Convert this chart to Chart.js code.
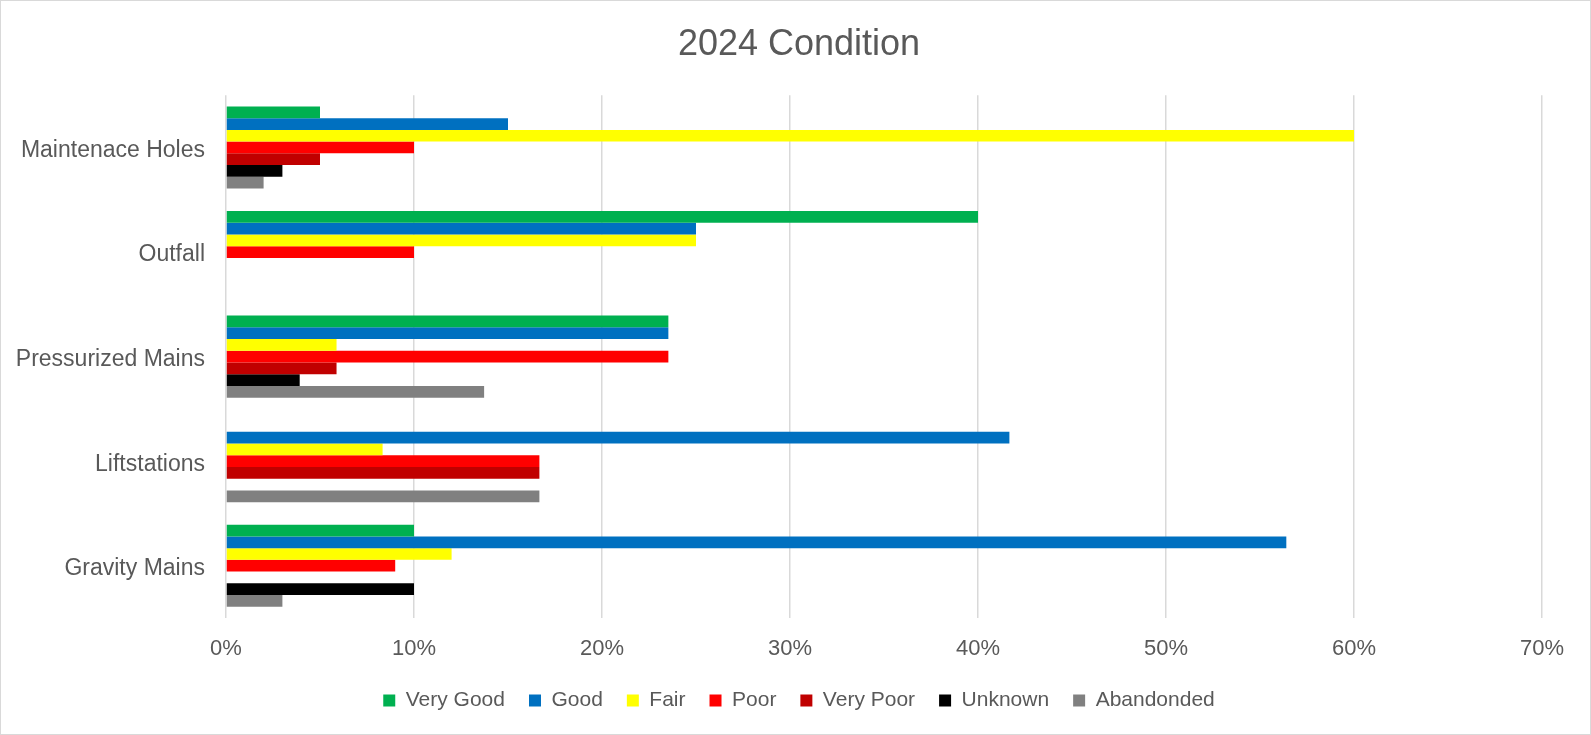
<!DOCTYPE html>
<html>
<head>
<meta charset="utf-8">
<script src="https://cdn.jsdelivr.net/npm/chart.js@4.4.1/dist/chart.umd.min.js"></script>
<style>
  html, body { margin: 0; padding: 0; background: #fff; }
  #wrap { width: 1591px; height: 735px; box-sizing: border-box; border: 1px solid #d9d9d9; }
  #wrap canvas { display: block; }
</style>
</head>
<body>
<div id="wrap"><canvas id="conditionChart" width="1589" height="733"></canvas></div>
<script>
// Data
var assets = ['Maintenace Holes', 'Outfall', 'Pressurized Mains', 'Liftstations', 'Gravity Mains'];
var veryGood = [5, 40, 23.53, 0, 10];
var good = [15, 25, 23.53, 41.67, 56.4];
var fair = [60, 25, 5.88, 8.33, 12];
var poor = [10, 10, 23.53, 16.67, 9];
var veryPoor = [5, 0, 5.88, 16.67, 0];
var unknown = [3, 0, 3.92, 0, 10];
var abandoned = [2, 0, 13.73, 16.67, 3];
var xTicks = [0, 10, 20, 30, 40, 50, 60, 70];

var textColor = '#595959';
var fontFamily = "'Liberation Sans', Arial, sans-serif";

// plot area runs a bit past the 70% line (room for the last tick label)
var plotLeft = 225, plotRight70 = 1541, canvasW = 1589;
var xMax = 70 * (canvasW - plotLeft) / (plotRight70 - plotLeft);

function series(label, data, color) {
    return {
        label: label,
        data: data,
        backgroundColor: color,
        borderWidth: 0,
        barPercentage: 1.0,
        categoryPercentage: 0.785
    };
}

var ctx = document.getElementById('conditionChart').getContext('2d');
var chart = new Chart(ctx, {
    type: 'bar',
    data: {
        labels: assets,
        datasets: [
            series('Very Good', veryGood, '#00B050'),
            series('Good', good, '#0070C0'),
            series('Fair', fair, '#FFFF00'),
            series('Poor', poor, '#FF0000'),
            series('Very Poor', veryPoor, '#C00000'),
            series('Unknown', unknown, '#000000'),
            series('Abandonded', abandoned, '#808080')
        ]
    },
    options: {
        indexAxis: 'y',
        responsive: false,
        animation: false,
        layout: {
            padding: { left: 7, right: 0, top: 0, bottom: 13 }
        },
        plugins: {
            title: {
                display: true,
                text: '2024 Condition',
                color: textColor,
                font: { family: fontFamily, size: 36, weight: 'normal' },
                padding: { top: 22.5, bottom: 28.5 }
            },
            legend: {
                display: true,
                position: 'bottom',
                labels: {
                    color: textColor,
                    font: { family: fontFamily, size: 21 },
                    boxWidth: 12,
                    boxHeight: 12,
                    padding: 24
                }
            },
            tooltip: { enabled: false }
        },
        scales: {
            x: {
                min: 0,
                max: xMax,
                afterBuildTicks: function(axis) {
                    axis.ticks = xTicks.map(function(v) { return { value: v }; });
                },
                afterFit: function(axis) { axis.height = 48; },
                grid: {
                    color: '#d9d9d9',
                    lineWidth: 1.5,
                    drawTicks: false
                },
                border: { display: false },
                ticks: {
                    color: textColor,
                    font: { family: fontFamily, size: 22 },
                    padding: 18,
                    callback: function(v) { return v + '%'; }
                }
            },
            y: {
                grid: { display: false, drawTicks: false },
                border: { display: false },
                afterFit: function(axis) { axis.width = plotLeft - 7; },
                ticks: {
                    color: textColor,
                    font: { family: fontFamily, size: 23 },
                    padding: 21,
                    labelOffset: 3
                }
            }
        }
    }
});
</script>
</body>
</html>
